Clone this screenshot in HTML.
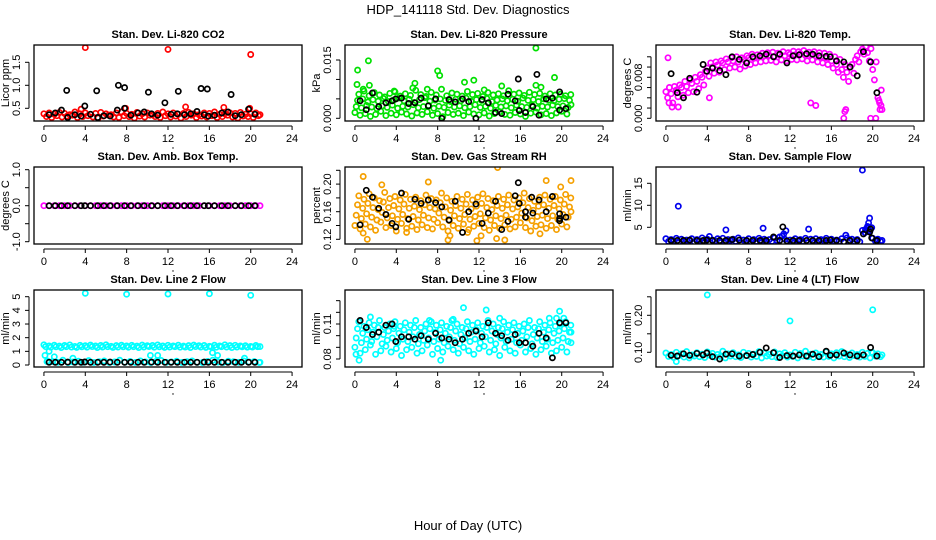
<!DOCTYPE html>
<html><head><meta charset="utf-8"><style>
html,body{margin:0;padding:0;background:#fff;}
svg{display:block;font-family:"Liberation Sans",sans-serif;}
</style></head><body>
<svg id="chart" width="936" height="540" viewBox="0 0 936 540" xmlns="http://www.w3.org/2000/svg">
<text x="468" y="14" text-anchor="middle" font-size="13">HDP_141118 Std. Dev. Diagnostics</text>
<text x="468" y="530" text-anchor="middle" font-size="13">Hour of Day (UTC)</text>
</svg>
<script>
const hours42 = [0,0.5,1,1.5,2,2.5,3,3.5,4,4.5,5,5.5,6,6.5,7,7.5,8,8.5,9,9.5,10,10.5,11,11.5,12,12.5,13,13.5,14,14.5,15,15.5,16,16.5,17,17.5,18,18.5,19,19.5,20,20.5];
const blackHours = [0.5,1.1,1.7,2.3,3.0,3.6,3.95,4.5,5.2,5.8,6.4,7.1,7.8,8.4,9.1,9.7,10.4,11.0,11.7,12.3,12.9,13.6,14.2,14.8,15.5,15.9,16.5,17.2,17.8,18.5,19.1,19.8,20.4];
const xTicks = [0,4,8,12,16,20,24];

const co2A = [0.38,0.40,0.37,0.41,0.39,0.36,0.42,0.38,0.40,0.37,0.39,0.41,0.38,0.36,0.40,0.42,0.39,0.37,0.41,0.38,0.40,0.36,0.39,0.42,0.38,0.40,0.37,0.39,0.41,0.38,0.36,0.40,0.39,0.42,0.37,0.38,0.40,0.39,0.41,0.37,0.38,0.40];
const co2B = [0.32,0.30,0.34,0.31,0.33,0.35,0.30,0.32,0.34,0.31,0.29,0.33,0.35,0.31,0.30,0.34,0.32,0.29,0.33,0.31,0.35,0.32,0.30,0.34,0.31,0.33,0.29,0.32,0.35,0.30,0.33,0.31,0.34,0.30,0.32,0.35,0.31,0.29,0.33,0.32,0.30,0.34];
const co2OutH = [4,12,20,3.6,13.7,17.4,19.9,7.9,20.9];
const co2OutV = [1.82,1.78,1.67,0.48,0.53,0.52,0.5,0.5,0.36];
const co2Black = [0.36,0.40,0.46,0.30,0.36,0.33,0.55,0.37,0.30,0.34,0.33,0.46,0.50,0.35,0.40,0.42,0.38,0.35,0.62,0.37,0.38,0.36,0.38,0.43,0.36,0.33,0.35,0.40,0.42,0.34,0.36,0.48,0.37];
const co2BlkH = [2.2,5.1,7.2,7.8,10.1,13.0,15.2,15.8,18.1];
const co2BlkV = [0.89,0.88,1.0,0.95,0.85,0.87,0.93,0.92,0.8];

const presA = [0.0015,0.0008,0.0012,0.0005,0.0010,0.0018,0.0007,0.0013,0.0009,0.0016,0.0011,0.0006,0.0014,0.0010,0.0017,0.0008,0.0012,0.0004,0.0015,0.0010,0.0013,0.0007,0.0016,0.0011,0.0009,0.0014,0.0006,0.0012,0.0017,0.0010,0.0008,0.0015,0.0011,0.0005,0.0013,0.0016,0.0009,0.0012,0.0007,0.0014,0.0018,0.0011];
const presB = [0.0030,0.0027,0.0033,0.0029,0.0025,0.0032,0.0028,0.0034,0.0026,0.0031,0.0029,0.0035,0.0027,0.0030,0.0033,0.0026,0.0031,0.0028,0.0034,0.0029,0.0032,0.0027,0.0030,0.0035,0.0028,0.0031,0.0026,0.0033,0.0029,0.0032,0.0027,0.0034,0.0030,0.0028,0.0033,0.0026,0.0031,0.0029,0.0034,0.0030,0.0032,0.0028];
const presC = [0.0046,0.0050,0.0042,0.0048,0.0044,0.0051,0.0043,0.0047,0.0052,0.0045,0.0049,0.0041,0.0048,0.0053,0.0044,0.0047,0.0050,0.0046,0.0043,0.0049,0.0045,0.0052,0.0044,0.0048,0.0046,0.0051,0.0043,0.0047,0.0050,0.0045,0.0049,0.0044,0.0052,0.0046,0.0048,0.0043,0.0050,0.0047,0.0045,0.0049,0.0051,0.0046];
const presD = [0.0062,0.0070,0.0058,0.0066,0.0060,0.0055,0.0064,0.0068,0.0057,0.0063,0.0059,0.0072,0.0061,0.0056,0.0067,0.0060,0.0075,0.0058,0.0065,0.0062,0.0057,0.0069,0.0061,0.0064,0.0056,0.0066,0.0060,0.0063,0.0058,0.0071,0.0062,0.0065,0.0059,0.0067,0.0061,0.0064,0.0057,0.0063,0.0060,0.0062,0.0058,0.0061];
const presOutH = [0.26,0.2,1.3,1.4,0.8,5.8,5.6,8.0,8.2,10.6,11.5,14.2,17.5,17.5,19.3,3.8,7.0,12.5,18.0,20.9];
const presOutV = [0.0124,0.0087,0.0148,0.0085,0.0075,0.0090,0.0078,0.0122,0.0110,0.0093,0.0098,0.0083,0.0181,0.0085,0.0105,0.0070,0.0075,0.0073,0.0080,0.0035];
const presBlack = [0.0045,0.0022,0.0065,0.0030,0.0040,0.0045,0.0050,0.0052,0.0038,0.0040,0.0052,0.0032,0.0050,0.0000,0.0048,0.0042,0.0050,0.0043,0.0000,0.0048,0.0040,0.0015,0.0012,0.0062,0.0045,0.0020,0.0015,0.0030,0.0008,0.0050,0.0052,0.0021,0.0025];
const presBlkH = [17.6,15.8,19.8];
const presBlkV = [0.0113,0.0101,0.0068];

const tempA = [0.0052,0.0048,0.0055,0.0060,0.0062,0.0068,0.0072,0.0080,0.0098,0.0100,0.0104,0.0108,0.0110,0.0112,0.0110,0.0115,0.0118,0.0117,0.0120,0.0122,0.0123,0.0121,0.0124,0.0122,0.0125,0.0124,0.0126,0.0123,0.0124,0.0122,0.0120,0.0118,0.0112,0.0105,0.0095,0.0090,0.0105,0.0122,0.0135,0.0128,0.0095,0.0040];
const tempB = [0.0040,0.0030,0.0042,0.0045,0.0050,0.0052,0.0058,0.0065,0.0082,0.0088,0.0090,0.0095,0.0098,0.0100,0.0096,0.0102,0.0105,0.0108,0.0110,0.0112,0.0113,0.0110,0.0114,0.0112,0.0115,0.0114,0.0116,0.0112,0.0114,0.0110,0.0108,0.0105,0.0098,0.0090,0.0080,0.0072,0.0088,0.0110,0.0125,0.0112,0.0075,0.0030];
const tempC = [0.0060,0.0062,0.0065,0.0072,0.0075,0.0080,0.0085,0.0092,0.0108,0.0110,0.0112,0.0116,0.0118,0.0120,0.0118,0.0122,0.0125,0.0124,0.0127,0.0128,0.0129,0.0127,0.0130,0.0128,0.0131,0.0130,0.0132,0.0129,0.0130,0.0128,0.0127,0.0125,0.0120,0.0115,0.0105,0.0100,0.0115,0.0130,0.0140,0.0136,0.0110,0.0055];
const tempOutH = [0.2,0.3,0.6,1.2,4.2,14,14.5,17.2,17.3,17.4,19.8,20.3,20.7,20.9,20.8,20.6];
const tempOutV = [0.0118,0.0030,0.0022,0.0022,0.0040,0.0030,0.0025,0.0000,0.0013,0.0017,0.0000,0.0000,0.0017,0.0017,0.0025,0.0035];
const tempBlack = [0.0087,0.0050,0.0040,0.0078,0.0051,0.0105,0.0092,0.0098,0.0093,0.0085,0.0120,0.0115,0.0108,0.0120,0.0122,0.0125,0.0120,0.0125,0.0108,0.0122,0.0124,0.0126,0.0125,0.0122,0.0121,0.0120,0.0112,0.0110,0.0100,0.0083,0.0130,0.0110,0.0050];

const ambA = [0,0,0,0,0,0,0,0,0,0,0,0,0,0,0,0,0,0,0,0,0,0,0,0,0,0,0,0,0,0,0,0,0,0,0,0,0,0,0,0,0,0];
const ambOutH = [20.9];
const ambOutV = [0];
const ambBlack = [0,0,0,0,0,0,0,0,0,0,0,0,0,0,0,0,0,0,0,0,0,0,0,0,0,0,0,0,0,0,0,0,0];

const rhA = [0.140,0.135,0.142,0.138,0.133,0.145,0.137,0.140,0.132,0.143,0.136,0.139,0.134,0.141,0.137,0.135,0.144,0.138,0.132,0.140,0.136,0.142,0.134,0.139,0.143,0.137,0.133,0.140,0.136,0.141,0.135,0.138,0.144,0.137,0.132,0.139,0.141,0.136,0.140,0.134,0.142,0.138];
const rhB = [0.155,0.150,0.157,0.152,0.148,0.159,0.151,0.154,0.149,0.156,0.150,0.153,0.148,0.155,0.151,0.149,0.158,0.152,0.147,0.154,0.150,0.156,0.149,0.153,0.157,0.151,0.148,0.154,0.150,0.155,0.149,0.152,0.158,0.151,0.147,0.153,0.155,0.150,0.154,0.149,0.156,0.152];
const rhC = [0.170,0.165,0.172,0.166,0.163,0.174,0.166,0.169,0.164,0.171,0.165,0.168,0.163,0.170,0.166,0.164,0.173,0.167,0.162,0.169,0.165,0.171,0.164,0.168,0.172,0.166,0.163,0.169,0.165,0.170,0.164,0.167,0.173,0.166,0.162,0.168,0.170,0.165,0.169,0.164,0.171,0.167];
const rhD = [0.183,0.178,0.186,0.180,0.176,0.188,0.179,0.182,0.177,0.185,0.178,0.181,0.176,0.184,0.179,0.177,0.187,0.180,0.175,0.182,0.178,0.185,0.177,0.181,0.186,0.179,0.176,0.182,0.178,0.184,0.177,0.180,0.187,0.179,0.175,0.181,0.184,0.178,0.182,0.177,0.185,0.180];
const rhOutH = [0.8,0.8,2.6,5.0,7.1,9.0,9.2,10.9,11.8,12.2,13.7,13.8,14.5,18.5,19.9,20.9,1.2,17.9,20.9];
const rhOutV = [0.211,0.129,0.199,0.130,0.203,0.119,0.125,0.130,0.118,0.125,0.121,0.224,0.119,0.205,0.196,0.205,0.120,0.128,0.160];
const rhBlack = [0.141,0.191,0.181,0.165,0.156,0.143,0.138,0.187,0.149,0.178,0.172,0.177,0.173,0.167,0.148,0.175,0.130,0.160,0.171,0.143,0.158,0.175,0.134,0.146,0.183,0.172,0.160,0.158,0.177,0.160,0.182,0.150,0.152];
const rhBlkH = [15.8,19.8,19.8,17.1,16.5];
const rhBlkV = [0.202,0.157,0.147,0.181,0.152];

const sfA = [2.4,2.2,2.5,2.3,2.1,2.4,2.2,2.6,2.3,2.1,2.4,2.5,2.2,2.3,2.6,2.1,2.4,2.2,2.5,2.3,2.2,2.6,2.8,2.3,2.1,2.4,2.2,2.5,2.3,2.4,2.2,2.5,2.3,2.1,2.4,2.6,2.3,2.2,4.3,4.8,2.5,2.3];
const sfB = [1.8,1.9,1.7,1.8,2.0,1.7,1.9,1.8,1.6,1.9,1.8,1.7,2.0,1.8,1.5,1.9,1.7,1.8,1.9,1.7,1.8,2.0,3.0,1.8,1.7,1.9,1.8,1.6,1.9,1.8,2.0,1.7,1.9,1.8,1.6,1.9,1.8,1.7,3.8,4.2,1.9,1.8];
const sfOutH = [1.2,5.8,9.4,13.8,19.0,19.7,19.6,19.5,11.6,4.2,17.4,11.4,19.3,19.9,20.9];
const sfOutV = [9.8,4.4,4.8,4.6,18.0,7.1,6.0,5.2,4.2,2.9,3.2,3.5,4.5,4.9,2.0];
const sfBlack = [2.0,2.0,2.0,2.1,2.0,2.0,2.1,2.0,2.0,2.0,2.2,2.1,2.0,2.0,2.0,2.0,2.8,2.0,1.9,2.0,2.0,2.0,2.0,2.0,2.0,2.1,2.0,1.7,2.0,2.0,3.5,4.6,2.0];
const sfBlkH = [11.3,19.7,19.9];
const sfBlkV = [5.1,3.9,2.6];

const l2A = [1.48,1.40,1.45,1.38,1.43,1.47,1.36,1.44,1.41,1.46,1.39,1.43,1.48,1.37,1.42,1.45,1.40,1.44,1.38,1.46,1.41,1.43,1.47,1.39,1.44,1.40,1.45,1.38,1.42,1.46,1.41,1.43,1.37,1.45,1.40,1.48,1.42,1.44,1.39,1.41,1.36,1.43];
const l2B = [1.35,1.30,1.33,1.28,1.34,1.31,1.29,1.33,1.30,1.35,1.28,1.32,1.34,1.29,1.31,1.33,1.30,1.34,1.28,1.32,1.35,1.30,1.33,1.29,1.31,1.34,1.30,1.32,1.28,1.35,1.31,1.29,1.33,1.30,1.34,1.32,1.28,1.31,1.33,1.30,1.32,1.34];
const l2C = [0.30,0.25,0.20,0.35,0.18,0.22,0.28,0.20,0.32,0.19,0.24,0.30,0.18,0.22,0.35,0.20,0.26,0.19,0.30,0.22,0.18,0.25,0.33,0.20,0.22,0.28,0.19,0.24,0.30,0.20,0.18,0.26,0.35,0.22,0.19,0.28,0.24,0.20,0.30,0.22,0.25,0.18];
const l2OutH = [4,8,12,16,20,0.1,0.5,1.0,2.8,10.3,11,16.3,16.8,19.4,0.3,20.9,20.9];
const l2OutV = [5.25,5.18,5.2,5.22,5.1,0.7,1.0,0.6,0.5,0.7,0.7,0.9,0.7,0.5,0.25,1.35,0.2];
const l2Black = [0.2,0.2,0.2,0.21,0.2,0.2,0.22,0.2,0.2,0.2,0.21,0.2,0.2,0.2,0.2,0.2,0.21,0.2,0.2,0.2,0.2,0.2,0.2,0.2,0.21,0.2,0.2,0.2,0.2,0.2,0.2,0.2,0.2];

const l3A = [0.090,0.085,0.088,0.092,0.084,0.087,0.091,0.086,0.089,0.083,0.088,0.090,0.085,0.087,0.092,0.084,0.089,0.086,0.091,0.088,0.085,0.090,0.087,0.084,0.089,0.091,0.086,0.088,0.083,0.090,0.087,0.085,0.092,0.086,0.089,0.084,0.088,0.091,0.085,0.087,0.090,0.086];
const l3B = [0.098,0.094,0.097,0.095,0.099,0.093,0.096,0.098,0.094,0.097,0.095,0.099,0.093,0.096,0.098,0.095,0.097,0.094,0.099,0.096,0.093,0.098,0.095,0.097,0.094,0.099,0.096,0.093,0.098,0.095,0.097,0.094,0.096,0.099,0.093,0.098,0.095,0.097,0.094,0.096,0.098,0.095];
const l3C = [0.106,0.102,0.105,0.103,0.107,0.101,0.104,0.106,0.102,0.105,0.103,0.107,0.101,0.104,0.106,0.103,0.105,0.102,0.107,0.104,0.101,0.106,0.103,0.105,0.102,0.107,0.104,0.101,0.106,0.103,0.105,0.102,0.104,0.107,0.101,0.106,0.103,0.105,0.102,0.104,0.106,0.103];
const l3D = [0.112,0.108,0.111,0.109,0.113,0.107,0.110,0.112,0.108,0.111,0.109,0.113,0.107,0.110,0.112,0.109,0.111,0.108,0.113,0.110,0.107,0.112,0.109,0.111,0.108,0.113,0.110,0.107,0.112,0.109,0.111,0.108,0.110,0.113,0.107,0.112,0.109,0.111,0.108,0.110,0.112,0.109];
const l3OutH = [10.5,12.7,19.8,1.5,8.3,18.8,19.5,20.2,14.0,7.2,9.5,3.8,0.1,0.4,20.9,20.9];
const l3OutV = [0.124,0.122,0.121,0.116,0.079,0.115,0.115,0.115,0.115,0.113,0.114,0.108,0.084,0.079,0.103,0.094];
const l3Black = [0.113,0.107,0.101,0.103,0.109,0.110,0.095,0.099,0.099,0.097,0.100,0.097,0.102,0.098,0.097,0.094,0.097,0.102,0.104,0.099,0.111,0.102,0.100,0.096,0.101,0.094,0.094,0.091,0.102,0.098,0.081,0.111,0.111];

const l4A = [0.098,0.094,0.100,0.096,0.102,0.093,0.099,0.095,0.101,0.097,0.094,0.103,0.096,0.099,0.093,0.100,0.097,0.095,0.102,0.098,0.094,0.101,0.096,0.099,0.093,0.100,0.097,0.103,0.095,0.098,0.094,0.101,0.096,0.099,0.102,0.095,0.098,0.094,0.100,0.097,0.099,0.096];
const l4B = [0.089,0.086,0.091,0.087,0.085,0.090,0.088,0.086,0.092,0.087,0.089,0.085,0.090,0.088,0.086,0.091,0.087,0.089,0.085,0.090,0.088,0.086,0.091,0.087,0.089,0.085,0.090,0.088,0.086,0.091,0.087,0.089,0.085,0.090,0.088,0.086,0.091,0.087,0.089,0.085,0.090,0.088];
const l4OutH = [4,12,20,1.0,19.9,20.9];
const l4OutV = [0.255,0.185,0.215,0.075,0.10,0.093];
const l4Black = [0.092,0.090,0.096,0.092,0.097,0.093,0.098,0.088,0.082,0.095,0.096,0.090,0.091,0.094,0.100,0.112,0.099,0.086,0.091,0.090,0.093,0.090,0.095,0.088,0.103,0.092,0.093,0.098,0.093,0.090,0.093,0.113,0.090];

const panels = [
 {name:'co2',title:'Stan. Dev. Li-820 CO2',ylab:'Licor ppm',box:[34,45,302,121],ym:[0.5,108.3,1.5,62.3],ticks:[0.5,1.0,1.5],labels:['0.5','1.0','1.5'],color:'#ff0000',
  bands:[co2A,co2B],outH:co2OutH,outV:co2OutV,blk:co2Black,blkH:co2BlkH,blkV:co2BlkV},
 {name:'pressure',title:'Stan. Dev. Li-820 Pressure',ylab:'kPa',box:[345,45,613,121],ym:[0,118.3,0.015,60],ticks:[0,0.005,0.010,0.015],labels:['0.000','','','0.015'],color:'#00e000',
  bands:[presA,presB,presC,presD],outH:presOutH,outV:presOutV,blk:presBlack,blkH:presBlkH,blkV:presBlkV},
 {name:'temp',title:'Stan. Dev. Li-820 Temp.',ylab:'degrees C',box:[656,45,924,121],ym:[0,118.3,0.008,77.3],ticks:[0,0.002,0.004,0.006,0.008,0.010,0.012],labels:['0.000','','','','0.008','',''],color:'#ff00ff',
  bands:[tempA,tempB,tempC],outH:tempOutH,outV:tempOutV,blk:tempBlack,blkH:[],blkV:[]},
 {name:'amb-box-temp',title:'Stan. Dev. Amb. Box Temp.',ylab:'degrees C',box:[34,167,302,244],ym:[0,205.7,1,169.7],ticks:[-1,-0.5,0,0.5,1],labels:['-1.0','','0.0','','1.0'],color:'#ff00ff',
  bands:[ambA],outH:ambOutH,outV:ambOutV,blk:ambBlack,blkH:[],blkV:[]},
 {name:'gas-rh',title:'Stan. Dev. Gas Stream RH',ylab:'percent',box:[345,167,613,244],ym:[0.12,239.3,0.16,211.7],ticks:[0.12,0.14,0.16,0.18,0.20,0.22],labels:['0.12','','0.16','','0.20',''],color:'#f5a000',
  bands:[rhA,rhB,rhC,rhD],outH:rhOutH,outV:rhOutV,blk:rhBlack,blkH:rhBlkH,blkV:rhBlkV},
 {name:'sample-flow',title:'Stan. Dev. Sample Flow',ylab:'ml/min',box:[656,167,924,244],ym:[5,227.3,15,183.3],ticks:[5,10,15],labels:['5','10','15'],color:'#0000ee',
  bands:[sfA,sfB],outH:sfOutH,outV:sfOutV,blk:sfBlack,blkH:sfBlkH,blkV:sfBlkV},
 {name:'line2-flow',title:'Stan. Dev. Line 2 Flow',ylab:'ml/min',box:[34,290,302,367],ym:[0,365,5,296.7],ticks:[0,1,2,3,4,5],labels:['0','1','2','3','4','5'],color:'#00ffff',
  bands:[l2A,l2B,l2C],outH:l2OutH,outV:l2OutV,blk:l2Black,blkH:[],blkV:[]},
 {name:'line3-flow',title:'Stan. Dev. Line 3 Flow',ylab:'ml/min',box:[345,290,613,367],ym:[0.08,359,0.11,324],ticks:[0.08,0.09,0.10,0.11,0.12,0.13],labels:['0.08','','','0.11','',''],color:'#00ffff',
  bands:[l3A,l3B,l3C,l3D],outH:l3OutH,outV:l3OutV,blk:l3Black,blkH:[],blkV:[]},
 {name:'line4-flow',title:'Stan. Dev. Line 4 (LT) Flow',ylab:'ml/min',box:[656,290,924,367],ym:[0.10,352.3,0.20,315.3],ticks:[0.10,0.15,0.20,0.25],labels:['0.10','','0.20',''],color:'#00ffff',
  bands:[l4A,l4B],outH:l4OutH,outV:l4OutV,blk:l4Black,blkH:[],blkV:[]}
];

const NS='http://www.w3.org/2000/svg';
const svg=document.getElementById('chart');
function mk(tag,attrs,parent){const e=document.createElementNS(NS,tag);for(const k in attrs)e.setAttribute(k,attrs[k]);(parent||svg).appendChild(e);return e;}

panels.forEach((p,pi)=>{
  const [x0,y0,x1,y1]=p.box;
  const g=mk('g',{});
  
  
  const ppx=(x1-x0)/25.92;
  const xs=h=>x0+(h+0.96)*ppx;
  const [v1,q1,v2,q2]=p.ym;
  const ys=v=>q1+(v-v1)*(q2-q1)/(v2-v1);
  const cid='clip'+pi;
  const cp=mk('clipPath',{id:cid},g);
  mk('rect',{x:x0,y:y0,width:x1-x0,height:y1-y0},cp);
  const pts=mk('g',{'clip-path':'url(#'+cid+')'},g);
  
  
  function dot(h,v,col){
    const c=mk('circle',{cx:xs(h).toFixed(1),cy:ys(v).toFixed(1),r:2.6,fill:'none',stroke:col,'stroke-width':1.7},pts);
    
    
  }
  const nb=p.bands.length;
  p.bands.forEach((arr,k)=>arr.forEach((v,i)=>dot(hours42[i]+(nb>1?k*0.5/nb:0),v,p.color)));
  p.outH.forEach((h,i)=>dot(h,p.outV[i],p.color));
  p.blk.forEach((v,i)=>dot(blackHours[i],v,'#000'));
  p.blkH.forEach((h,i)=>dot(h,p.blkV[i],'#000'));
  const fr=mk('rect',{x:x0,y:y0,width:x1-x0,height:y1-y0,fill:'none',stroke:'#000','stroke-width':1.3},g);
  
  
  const t=mk('text',{x:(x0+x1)/2,y:y0-7,'text-anchor':'middle','font-size':11,'font-weight':'bold'},g);
  t.textContent=p.title;
  
  
  const xa=mk('g',{},g);
  
  
  mk('line',{x1:xs(0),x2:xs(24),y1:y1+5,y2:y1+5,stroke:'#000','stroke-width':1},xa);
  xTicks.forEach(h=>{
    mk('line',{x1:xs(h),x2:xs(h),y1:y1+5,y2:y1+9,stroke:'#000','stroke-width':1},xa);
    const tl=mk('text',{x:xs(h),y:y1+21,'text-anchor':'middle','font-size':11},xa);
    tl.textContent=String(h);
    
    
  });
  mk('circle',{cx:xs(12)+5,cy:y1+27,r:0.7,fill:'#000'},xa);
  const ya=mk('g',{},g);
  
  
  const ax=x0-5;
  mk('line',{x1:ax,x2:ax,y1:ys(p.ticks[0]),y2:ys(p.ticks[p.ticks.length-1]),stroke:'#000','stroke-width':1},ya);
  p.ticks.forEach((v,i)=>{
    const y=ys(v);
    mk('line',{x1:ax-4,x2:ax,y1:y,y2:y,stroke:'#000','stroke-width':1},ya);
    if(p.labels[i]){
      const tl=mk('text',{x:ax-9,y:y,'text-anchor':'middle','font-size':11,transform:'rotate(-90 '+(ax-9)+' '+y+')'},ya);
      tl.textContent=p.labels[i];
      
      
    }
  });
  const yl=mk('text',{x:x0-25,y:(y0+y1)/2,'text-anchor':'middle','font-size':11,transform:'rotate(-90 '+(x0-25)+' '+((y0+y1)/2)+')'},ya);
  yl.textContent=p.ylab;
  
  
});
</script>
</body></html>
